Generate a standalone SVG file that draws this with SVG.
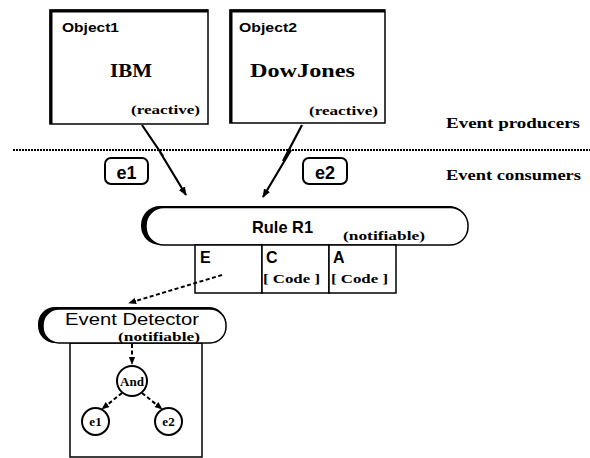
<svg xmlns="http://www.w3.org/2000/svg" width="590" height="458" viewBox="0 0 590 458">
<style>
.box{fill:#fff;stroke:#000;stroke-width:1.5}
.thick{stroke:#000;stroke-width:3;fill:none}
.sansb{font-family:"Liberation Sans",Arial,sans-serif;font-weight:bold;fill:#000}
.sans{font-family:"Liberation Sans",Arial,sans-serif;fill:#000}
.serifb{font-family:"Liberation Serif","Times New Roman",serif;font-weight:bold;fill:#000}
.conn{fill:none;stroke:#000;stroke-width:2.2;stroke-linejoin:miter}
.dash{fill:none;stroke:#000;stroke-width:2;stroke-dasharray:4 2.5}
</style>
<defs>
<marker id="ah" viewBox="0 0 10 10" refX="9" refY="5" markerWidth="4" markerHeight="4" orient="auto" markerUnits="strokeWidth">
<path d="M0,1 L10,5 L0,9 z" fill="#000"/>
</marker>
</defs>
<rect width="590" height="458" fill="#fff"/>

<!-- separator -->
<line x1="13" y1="150" x2="590" y2="150" stroke="#000" stroke-width="2" stroke-dasharray="2 1"/>
<text class="serifb" x="446" y="128" font-size="15" textLength="134" lengthAdjust="spacingAndGlyphs">Event producers</text>
<text class="serifb" x="446" y="180" font-size="15" textLength="135" lengthAdjust="spacingAndGlyphs">Event consumers</text>

<g id="object1">
<rect class="box" x="50" y="10" width="158" height="114"/>
<path class="thick" d="M51,124 V11 H208"/>
<text class="sansb" x="62" y="32" font-size="13" textLength="57" lengthAdjust="spacingAndGlyphs">Object1</text>
<text class="serifb" x="110" y="77" font-size="18" textLength="42" lengthAdjust="spacingAndGlyphs">IBM</text>
<text class="serifb" x="131" y="114" font-size="12" textLength="69" lengthAdjust="spacingAndGlyphs">(reactive)</text>
</g>

<g id="object2">
<rect class="box" x="230" y="10" width="155" height="113"/>
<path class="thick" d="M231,123 V11 H385"/>
<text class="sansb" x="239" y="32" font-size="13" textLength="58" lengthAdjust="spacingAndGlyphs">Object2</text>
<text class="serifb" x="250" y="77" font-size="18" textLength="105" lengthAdjust="spacingAndGlyphs">DowJones</text>
<text class="serifb" x="309" y="115" font-size="12" textLength="69" lengthAdjust="spacingAndGlyphs">(reactive)</text>
</g>

<g id="e1">
<rect x="105" y="158" width="43" height="26" rx="6" fill="#fff" stroke="#000" stroke-width="2"/>
<text class="sansb" x="126.5" y="179" font-size="18" text-anchor="middle">e1</text>
</g>
<g id="e2">
<rect x="303" y="158" width="44" height="26" rx="6" fill="#fff" stroke="#000" stroke-width="2"/>
<text class="sansb" x="325" y="179" font-size="18" text-anchor="middle">e2</text>
</g>

<g id="ruleR1">
<rect x="141" y="206" width="327" height="39" rx="19" fill="#000"/>
<rect x="146" y="207.5" width="322" height="37.5" rx="18" fill="#fff" stroke="#000" stroke-width="1.5"/>
<text class="sansb" x="252" y="233" font-size="17" textLength="61" lengthAdjust="spacingAndGlyphs">Rule R1</text>
<text class="serifb" x="343" y="240" font-size="13" textLength="82" lengthAdjust="spacingAndGlyphs">(notifiable)</text>
<rect class="box" x="195" y="245" width="67" height="48"/>
<rect class="box" x="262" y="245" width="67" height="48"/>
<rect class="box" x="329" y="245" width="67" height="48"/>
<text class="sansb" x="200" y="263" font-size="16">E</text>
<text class="sansb" x="266" y="263" font-size="16">C</text>
<text class="sansb" x="333" y="263" font-size="16">A</text>
<text class="serifb" x="263" y="283" font-size="12" textLength="57" lengthAdjust="spacingAndGlyphs">[ Code ]</text>
<text class="serifb" x="331" y="283" font-size="12" textLength="57" lengthAdjust="spacingAndGlyphs">[ Code ]</text>
</g>

<g id="eventDetector">
<rect x="70" y="343" width="132" height="114" fill="#fff" stroke="#000" stroke-width="1.5"/>
<rect x="38" y="307" width="188" height="36" rx="17" fill="#000"/>
<rect x="43" y="309" width="183" height="34" rx="16" fill="#fff" stroke="#000" stroke-width="1.5"/>
<text class="sans" x="65" y="325" font-size="17" textLength="134" lengthAdjust="spacingAndGlyphs">Event Detector</text>
<text class="serifb" x="118" y="341" font-size="12" textLength="82" lengthAdjust="spacingAndGlyphs">(notifiable)</text>
</g>

<g id="and">
<circle cx="132" cy="381" r="15" fill="#fff" stroke="#000" stroke-width="2"/>
<text class="serifb" x="132" y="385.5" font-size="13" text-anchor="middle">And</text>
</g>
<g id="ed_e1">
<circle cx="95.5" cy="421.5" r="13.5" fill="#fff" stroke="#000" stroke-width="2"/>
<text class="serifb" x="95.5" y="426" font-size="13" text-anchor="middle">e1</text>
</g>
<g id="ed_e2">
<circle cx="168.5" cy="421.5" r="13.5" fill="#fff" stroke="#000" stroke-width="2"/>
<text class="serifb" x="168.5" y="426" font-size="13" text-anchor="middle">e2</text>
</g>

<g id="connectors">
<polyline class="conn" points="142,125 163,156 160,152 186,195" marker-end="url(#ah)"/>
<polyline class="conn" points="302,125 283,161 291,150 263,197" marker-end="url(#ah)"/>
<line class="dash" x1="222" y1="275" x2="129" y2="303" marker-end="url(#ah)"/>
<line class="dash" x1="132" y1="344" x2="132" y2="364" marker-end="url(#ah)"/>
<line class="dash" x1="122" y1="393" x2="102" y2="409" marker-end="url(#ah)"/>
<line class="dash" x1="142" y1="393" x2="162" y2="409" marker-end="url(#ah)"/>
</g>
</svg>
